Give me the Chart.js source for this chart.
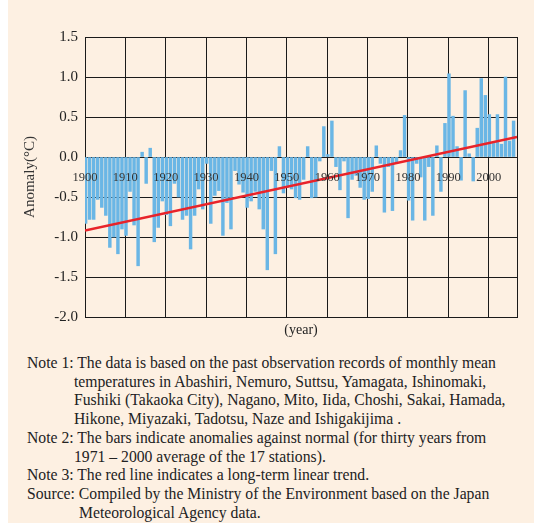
<!DOCTYPE html>
<html>
<head>
<meta charset="utf-8">
<script src="https://cdn.jsdelivr.net/npm/chart.js@4"></script>
<style>
  body { margin: 0; background: #fff; }
  #panel { position: absolute; left: 8px; top: 0; width: 526px; height: 523px; background: #fdf0e2; }
  #wrap { position: absolute; left: 0; top: 0; width: 534px; height: 345px; }
  #notes { position: absolute; left: 27px; top: 354px; font-family: "Liberation Serif", serif; font-size: 15.7px; line-height: 18.7px; color: #222; white-space: nowrap; }
  .ind { padding-left: 47px; }
  .ind2 { padding-left: 52px; }
</style>
</head>
<body>
<div id="panel"></div>
<div id="wrap"><canvas id="chart"></canvas></div>
<div id="notes">
  <div>Note 1: The data is based on the past observation records of monthly mean</div>
  <div class="ind">temperatures in Abashiri, Nemuro, Suttsu, Yamagata, Ishinomaki,</div>
  <div class="ind">Fushiki (Takaoka City), Nagano, Mito, Iida, Choshi, Sakai, Hamada,</div>
  <div class="ind">Hikone, Miyazaki, Tadotsu, Naze and Ishigakijima .</div>
  <div>Note 2: The bars indicate anomalies against normal (for thirty years from</div>
  <div class="ind">1971 – 2000 average of the 17 stations).</div>
  <div>Note 3: The red line indicates a long-term linear trend.</div>
  <div>Source: Compiled by the Ministry of the Environment based on the Japan</div>
  <div class="ind2">Meteorological Agency data.</div>
</div>
<script>
// yearly anomaly (°C), 1900 - 2006
const years = [];
for (let y = 1900; y <= 2006; y++) years.push(String(y));

const anomalies = [
  -0.83, -0.78, -0.78, -0.53, -0.63, -0.73, -1.13, -1.00, -1.21, -0.90,
  -0.98, -0.43, -0.85, -1.36,  0.06, -0.33,  0.11, -1.06, -0.88, -0.55,
  -0.72, -0.86, -0.33, -0.50, -0.78, -0.73, -1.15, -0.73, -0.40, -0.65,
  -0.08, -0.83, -0.48, -0.42, -0.98, -0.57, -0.90, -0.17, -0.34, -0.44,
  -0.63, -0.55, -0.43, -0.65, -0.90, -1.41, -0.17, -1.21,  0.13, -0.45,
  -0.38, -0.40, -0.51, -0.53, -0.28,  0.13, -0.51, -0.50, -0.05,  0.38,
   0.03,  0.45, -0.12, -0.41, -0.05, -0.76, -0.28, -0.23, -0.38, -0.53,
  -0.52, -0.43,  0.14, -0.08, -0.69, -0.12, -0.67, -0.08,  0.08,  0.52,
  -0.54, -0.79, -0.08, -0.25, -0.79, -0.12, -0.73,  0.14, -0.43,  0.42,
   1.04,  0.51,  0.13, -0.29,  0.83,  0.04, -0.30,  0.36,  0.98,  0.77,
   0.53,  0.17,  0.53,  0.16,  1.00,  0.20,  0.45
];

// linear trend end points
const trendYears = [1900, 2007];
const trendValues = [-0.92, 0.25];

const yTicks = { min: -2.0, max: 1.5, step: 0.5 };
const xRange = { min: 1900, max: 2007, step: 10 };

const serif = "'Liberation Serif', 'Times New Roman', serif";
const gridColor = "#1a1a1a";

// decade grid lines plus the right edge
function decadeGrid(scale) {
  const t = [];
  for (let v = xRange.min; v <= xRange.max; v += xRange.step) t.push({ value: v });
  t.push({ value: xRange.max });
  scale.ticks = t;
}

new Chart(document.getElementById("chart"), {
  data: {
    labels: years,
    datasets: [
      {
        type: "bar",
        data: anomalies,
        backgroundColor: "#6ab6e5",
        barThickness: 2.8,
        xAxisID: "x",
        yAxisID: "y",
        order: 2,
      },
      {
        type: "line",
        data: trendYears.map((yr, i) => ({ x: yr, y: trendValues[i] })),
        borderColor: "#e8232a",
        borderWidth: 2.5,
        pointRadius: 0,
        xAxisID: "xt",
        yAxisID: "y",
        order: 1,
      },
    ],
  },
  options: {
    responsive: true,
    maintainAspectRatio: false,
    animation: false,
    layout: { padding: { left: 0, top: 37, right: 17, bottom: 0 } },
    plugins: { legend: { display: false }, tooltip: { enabled: false } },
    scales: {
      x: { type: "category", display: false, offset: true },
      xt: {
        type: "linear",
        position: "bottom",
        min: xRange.min,
        max: xRange.max,
        afterBuildTicks: decadeGrid,
        grid: { color: gridColor, drawTicks: false },
        border: { color: gridColor },
        ticks: { display: false },
        title: { display: true, text: "(year)", font: { family: serif, size: 14 }, color: "#222", padding: { top: 0, bottom: 6 } },
        afterFit: (s) => { s.height = 28; },
      },
      xl: {
        type: "linear",
        position: { y: 0 },
        min: xRange.min,
        max: xRange.max,
        grid: { display: false, drawTicks: false },
        border: { display: false },
        ticks: {
          z: 1,
          stepSize: xRange.step,
          includeBounds: false,
          padding: 13,
          maxRotation: 0,
          autoSkip: false,
          font: { family: serif, size: 12.5 },
          color: "#333",
          callback: (v) => (v % 10 === 0 ? String(v) : ""),
        },
      },
      y: {
        min: yTicks.min,
        max: yTicks.max,
        grid: { color: gridColor, drawTicks: false },
        border: { color: gridColor },
        ticks: {
          stepSize: yTicks.step,
          padding: 7,
          font: { family: serif, size: 15 },
          color: "#222",
          callback: (v) => v.toFixed(1),
        },
        title: { display: true, text: "Anomaly(°C)", font: { family: serif, size: 15 }, color: "#333", padding: { top: 21 } },
        afterFit: (s) => { s.width = 85; },
      },
    },
  },
});
</script>
</body>
</html>
